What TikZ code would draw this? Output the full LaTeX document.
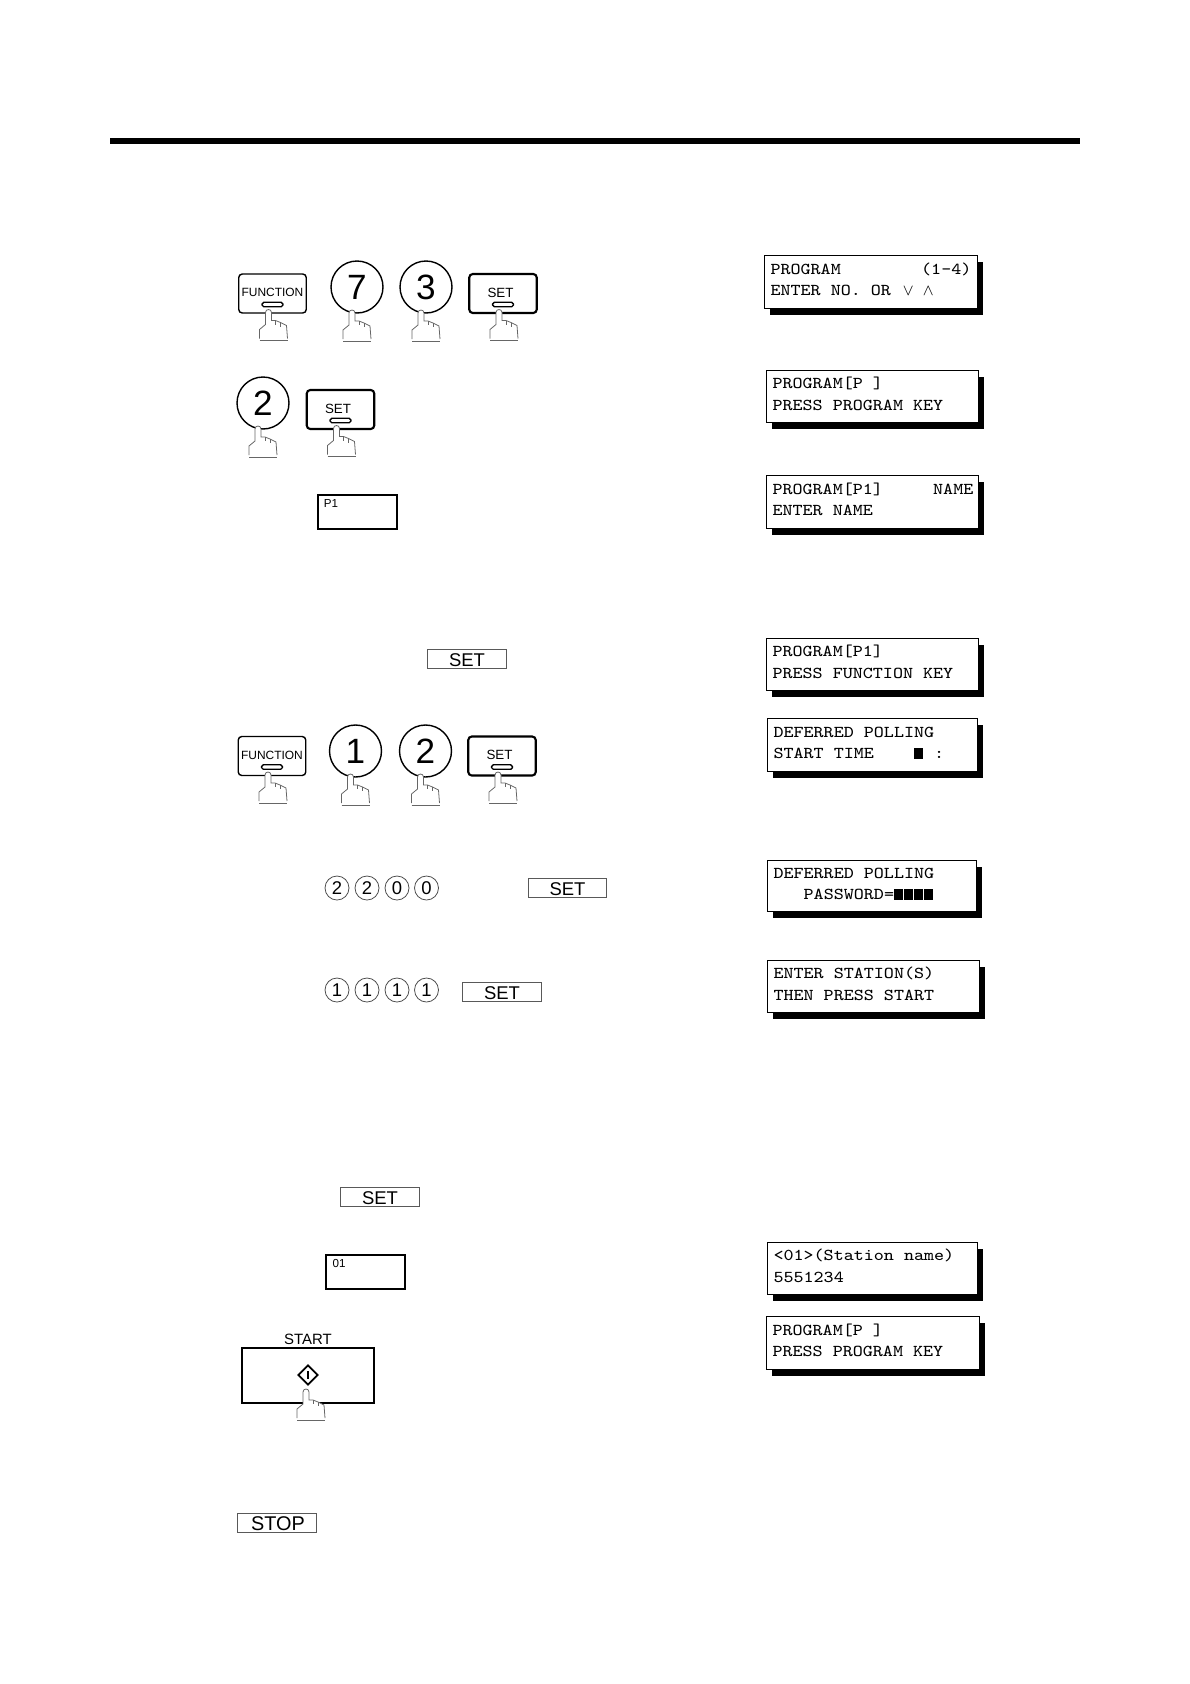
\documentclass[tikz,border=0pt]{standalone}
\usepackage{fontspec}
\setmainfont{Liberation Sans}
\setmonofont[FakeStretch=1.152]{Latin Modern Mono}
\usetikzlibrary{shadows,shapes.geometric}

\tikzset{
    hand/.pic={
        \draw[handline,fill=white] (-9,29) -- (-9,20) -- (-3,15) -- (-3,3) .. controls (-3,-1) and (3,-1) .. (3,3)
            -- (3,11) -- (7,11) -- (12,13) -- (18,16) -- (19,29);
        \draw[handline] (7,11) -- (7,15) (12,13) -- (12,17) (-9,31) -- (19,31);
    }
}

\begin{document}
\begin{tikzpicture}[x=0.02cm,y=-0.02cm,font=\fontsize{8}{10}\selectfont]
    \tikzstyle{handline}=[draw=black!60,line width=0.45pt]
    \tikzstyle{bigkey}=[rectangle,draw=black,rounded corners=2pt,fill=white,minimum width=1.35cm,minimum height=0.78cm,inner sep=0pt]
    \tikzstyle{keybar}=[rectangle,draw=black,rounded corners=1pt,fill=white,line width=0.8pt,minimum width=0.42cm,minimum height=0.09cm,inner sep=0pt]
    \tikzstyle{bigdigit}=[circle,draw=black,fill=white,line width=0.8pt,minimum size=1.04cm,inner sep=0pt,font=\fontsize{20}{22}\selectfont]
    \tikzstyle{smalldigit}=[circle,draw=black!70,line width=0.45pt,minimum size=0.48cm,inner sep=0pt,font=\fontsize{10.5}{12}\selectfont]
    \tikzstyle{smallkey}=[rectangle,draw=black!65,line width=0.6pt,minimum width=1.57cm,minimum height=0.39cm,inner sep=0pt]
    \tikzstyle{namebox}=[rectangle,draw=black,line width=0.7pt,minimum width=1.58cm,minimum height=0.68cm,inner sep=0pt]
    \tikzstyle{lcd}=[rectangle,draw=black,fill=white,line width=0.6pt,anchor=north west,inner sep=0pt,align=left,
        text height=0.3cm,text depth=0.62cm,
        drop shadow={shadow xshift=0.11cm,shadow yshift=-0.12cm,fill=black,opacity=1},
        font=\ttfamily\fontsize{9.45}{12.3}\selectfont\def~{\hspace*{0.605em}}]
    \def\lcdblock{\makebox[0.605em][l]{\rule[-0.02em]{0.53em}{0.66em}}}
    \def\lcdsign#1{\makebox[0.605em]{\hspace*{0.25em}$#1$}}

    \useasboundingbox (0,0) rectangle (1190,1684);
    \fill[black] (110,138) rectangle (1080,144);

    % keys with a finger on them
    \foreach \name/\x/\y/\lab/\lw/\size/\dx in {func-1/272.5/293.5/FUNCTION/0.8pt/6.8/0, set-1/503/293.5/SET/1.2pt/7.6/-2.5, set-2/340.5/409.5/SET/1.2pt/7.6/-2.5, func-2/272/756/FUNCTION/0.8pt/6.8/0, set-3/502/756/SET/1.2pt/7.6/-2.5}
    {
        \node[bigkey,line width=\lw] (\name) at (\x,\y) {};
        \node[inner sep=0pt,font=\fontsize{\size}{9}\selectfont] (\name-text) at ([shift={(\dx,-1)}]\name.center) {\lab};
        \node[keybar] (\name-bar) at ([shift={(0,11)}]\name.center) {};
        \pic at ([shift={(-4,16)}]\name.center) {hand};
    }
    \foreach \name/\x/\y/\lab in {seven/357/287/7, three/426/287/3, two-a/263/403/2, one-b/355.5/751/1, two-b/425.5/751/2}
    {
        \node[bigdigit] (\name) at (\x,\y) {\lab};
        \pic at ([shift={(-5,23)}]\name.center) {hand};
    }

    % digits in the text
    \foreach \name/\x/\y/\lab in {h-1/337/888/2, h-2/367/888/2, h-3/397/888/0, h-4/426.5/888/0, p-1/337/990/1, p-2/367/990/1, p-3/397/990/1, p-4/426.5/990/1}
        \node[smalldigit] (\name) at (\x,\y) {\lab};

    \foreach \name/\x/\y/\lab/\size/\dx in {setkey-1/467/659/SET/10.5/0, setkey-2/567.5/888/SET/10.5/0, setkey-3/502/992/SET/10.5/0, setkey-4/380/1197/SET/10.5/0, stopkey/277/1523/STOP/11.3/1}
    {
        \node[smallkey] (\name) at (\x,\y) {};
        \node[inner sep=0pt,font=\fontsize{\size}{12}\selectfont] (\name-text) at ([shift={(\dx,1)}]\name.center) {\lab};
    }

    % name boxes
    \foreach \name/\x/\y/\lab in {pbox/357.5/512/P1, sbox/365.5/1272/01}
    {
        \node[namebox] (\name) at (\x,\y) {};
        \node[inner sep=0pt,font=\fontsize{6.6}{7}\selectfont] (\name-text) at ([shift={(-26.5,-8.5)}]\name.center) {\lab};
    }

    % start key
    \node[rectangle,draw=black,line width=1.2pt,minimum width=2.64cm,minimum height=1.1cm,inner sep=0pt] (start) at (308,1375.5) {};
    \node[inner sep=0pt,font=\fontsize{8.5}{10}\selectfont] (start-text) at (308,1339) {START};
    \node[diamond,draw=black,line width=1pt,minimum size=0.4cm,inner sep=0pt] (start-mark) at (308,1375) {};
    \draw[line width=0.8pt] ([shift={(0,-4)}]start-mark.center) -- ([shift={(0,4)}]start-mark.center);
    \pic at (306,1389) {hand};

    % displays
    \foreach \name/\x/\y/\bw/\bh/\lines in {
        lcd-1/764/255/213/53/{PROGRAM~~~~~~~~(1-4)\\ENTER~NO.~OR~\lcdsign{\vee}~\lcdsign{\wedge}},
        lcd-2/766/370/212/52/{PROGRAM[P~]\\PRESS~PROGRAM~KEY},
        lcd-3/766/475/212/53/{PROGRAM[P1]~~~~~NAME\\ENTER~NAME},
        lcd-4/766/638/212/52/{PROGRAM[P1]\\PRESS~FUNCTION~KEY},
        lcd-5/767/718/210/53/{DEFERRED~POLLING\\START~TIME~~~~\lcdblock~:},
        lcd-6/767/860/209/51/{DEFERRED~POLLING\\~~~PASSWORD=\lcdblock\lcdblock\lcdblock\lcdblock},
        lcd-7/767/960/212/52/{ENTER~STATION(S)\\THEN~PRESS~START},
        lcd-8/767/1242/210/52/{<01>(Station~name)\\5551234},
        lcd-9/766/1316/213/53/{PROGRAM[P~]\\PRESS~PROGRAM~KEY}}
    {
        \node[lcd,minimum width=\bw*0.02cm,minimum height=\bh*0.02cm,text width=\bw*0.02cm-0.24cm,inner xsep=0.12cm] (\name) at (\x,\y) {\lines};
    }
\end{tikzpicture}
\end{document}
